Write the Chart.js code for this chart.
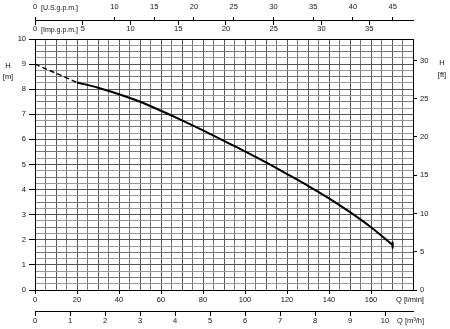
<!DOCTYPE html>
<html>
<head>
<meta charset="utf-8">
<script src="https://cdn.jsdelivr.net/npm/chart.js@4.4.1/dist/chart.umd.min.js"></script>
<style>
  html, body { margin: 0; padding: 0; background: #fff; }
  canvas { display: block; }
</style>
</head>
<body>
<canvas id="pumpChart" width="450" height="329"></canvas>
<script>
// Pump curve H - Q

// flow Q in l/min, head H in m
const flowDashed = [0, 20];
const headDashed = [9.0, 8.27];
const flow = [20, 30, 40, 50, 60, 70, 80, 90, 100, 110, 120, 130, 140, 150, 160, 170.3];
const head = [8.27, 8.06, 7.8, 7.5, 7.14, 6.76, 6.36, 5.94, 5.52, 5.08, 4.62, 4.15, 3.65, 3.1, 2.5, 1.79];

// tick labels
const flowLabels = [0, 20, 40, 60, 80, 100, 120, 140, 160];
const headLabels = [0, 1, 2, 3, 4, 5, 6, 7, 8, 9, 10];
const usgpmLabels = [0, 10, 15, 20, 25, 30, 35, 40, 45];

const flowMax = 180;
const headMax = 10;

// unit conversions
const LPM_PER_USGPM = 3.78541;
const LPM_PER_IMPGPM = 4.54609;
const M3H_PER_LPM = 0.06;
const M_PER_FT = 0.3048;

// where the extra axes sit (in metres of head)
const topAxisAt = 10.72;
const bottomAxisAt = -0.84;

const black = '#000';
const gridDark = '#555';
const gridMid = '#777';
const gridLight = '#999';
const fontFamily = '"Liberation Sans", Arial, sans-serif';

Chart.defaults.font.family = fontFamily;
Chart.defaults.font.size = 7.5;
Chart.defaults.color = '#111';

const unitLabels = {
  id: 'unitLabels',
  afterDraw(chart) {
    const { ctx, chartArea: a } = chart;
    ctx.save();
    ctx.fillStyle = '#111';
    ctx.textBaseline = 'middle';
    ctx.textAlign = 'left';
    ctx.font = '7px ' + fontFamily;
    ctx.fillText('[U.S.g.p.m.]', a.left + 6, 8);
    ctx.fillText('[Imp.g.p.m.]', a.left + 6, 30);
    ctx.font = '7.5px ' + fontFamily;
    ctx.fillText('Q [l/min]', a.right - 17, 300);
    ctx.fillText('Q [m\u00b3/h]', a.right - 16, 321);
    ctx.textAlign = 'center';
    ctx.fillText('H', 8, 66);
    ctx.fillText('[m]', 8, 77);
    ctx.fillText('H', 442, 63);
    ctx.fillText('[ft]', 442, 75);
    ctx.restore();
  }
};

const config = {
  type: 'line',
  data: {
    datasets: [
      {
        data: flowDashed.map((q, i) => ({ x: q, y: headDashed[i] })),
        borderColor: black,
        borderWidth: 1.4,
        borderDash: [5, 3],
        pointRadius: 0,
        xAxisID: 'x',
        yAxisID: 'y'
      },
      {
        data: flow.map((q, i) => ({ x: q, y: head[i] })),
        borderColor: black,
        borderWidth: 2,
        cubicInterpolationMode: 'monotone',
        pointRadius: c => c.dataIndex === flow.length - 1 ? 3.5 : 0,
        pointStyle: 'line',
        rotation: 90,
        pointBorderColor: black,
        pointBorderWidth: 2,
        xAxisID: 'x',
        yAxisID: 'y'
      }
    ]
  },
  options: {
    responsive: false,
    animation: false,
    devicePixelRatio: 1,
    layout: { padding: { left: 13, right: 17, top: 39, bottom: 23 } },
    plugins: { legend: { display: false }, tooltip: { enabled: false } },
    scales: {
      x: {
        type: 'linear',
        position: 'bottom',
        min: 0,
        max: flowMax,
        afterFit: s => { s.height = 16; },
        ticks: {
          stepSize: 5, autoSkip: false, maxRotation: 0, padding: 1,
          callback: v => flowLabels.includes(v) ? String(v) : ''
        },
        grid: {
          color: c => (c.tick.value === 0 || c.tick.value === flowMax) ? black
            : (c.tick.value % 10 === 0 ? gridDark : gridMid),
          tickLength: 4,
          tickColor: c => flowLabels.includes(c.tick.value) ? black : 'transparent'
        },
        border: { color: black }
      },
      q: {
        type: 'linear',
        axis: 'x',
        position: { y: bottomAxisAt },
        min: 0,
        max: flowMax * M3H_PER_LPM,
        ticks: { stepSize: 1, includeBounds: false, autoSkip: false, maxRotation: 0, padding: 1 },
        grid: { drawOnChartArea: false, tickLength: 4, tickColor: black },
        border: { color: black }
      },
      usgpm: {
        type: 'linear',
        axis: 'x',
        position: { y: topAxisAt },
        min: 0,
        max: flowMax / LPM_PER_USGPM,
        ticks: {
          stepSize: 5, includeBounds: false, autoSkip: false, maxRotation: 0, padding: -14,
          callback: v => usgpmLabels.includes(v) ? String(v) : ''
        },
        grid: {
          drawOnChartArea: false, tickLength: -4,
          tickColor: c => usgpmLabels.includes(c.tick.value) ? black : 'transparent'
        },
        border: { color: black }
      },
      impgpm: {
        type: 'linear',
        axis: 'x',
        position: { y: topAxisAt },
        min: 0,
        max: flowMax / LPM_PER_IMPGPM,
        ticks: { stepSize: 5, includeBounds: false, autoSkip: false, maxRotation: 0, padding: 0 },
        grid: { drawOnChartArea: false, tickLength: 4, tickColor: black },
        border: { display: false }
      },
      y: {
        type: 'linear',
        position: 'left',
        min: 0,
        max: headMax,
        afterFit: s => { s.width = 22; },
        ticks: {
          stepSize: 0.25, autoSkip: false, padding: 3,
          callback: v => headLabels.includes(v) ? String(v) : ''
        },
        grid: {
          color: c => (c.tick.value === 0 || c.tick.value === headMax) ? black
            : (Number.isInteger(c.tick.value) ? gridDark : (c.tick.value % 0.5 === 0 ? gridMid : gridLight)),
          tickLength: 6,
          tickColor: c => headLabels.includes(c.tick.value) ? black : 'transparent'
        },
        border: { color: black }
      },
      ft: {
        type: 'linear',
        position: 'right',
        min: 0,
        max: headMax / M_PER_FT,
        afterFit: s => { s.width = 20; },
        ticks: { stepSize: 5, includeBounds: false, autoSkip: false, padding: 3 },
        grid: { drawOnChartArea: false, tickLength: 4, tickColor: black },
        border: { color: black }
      }
    }
  },
  plugins: [unitLabels]
};

const pumpChart = new Chart(document.getElementById('pumpChart'), config);
</script>
</body>
</html>
